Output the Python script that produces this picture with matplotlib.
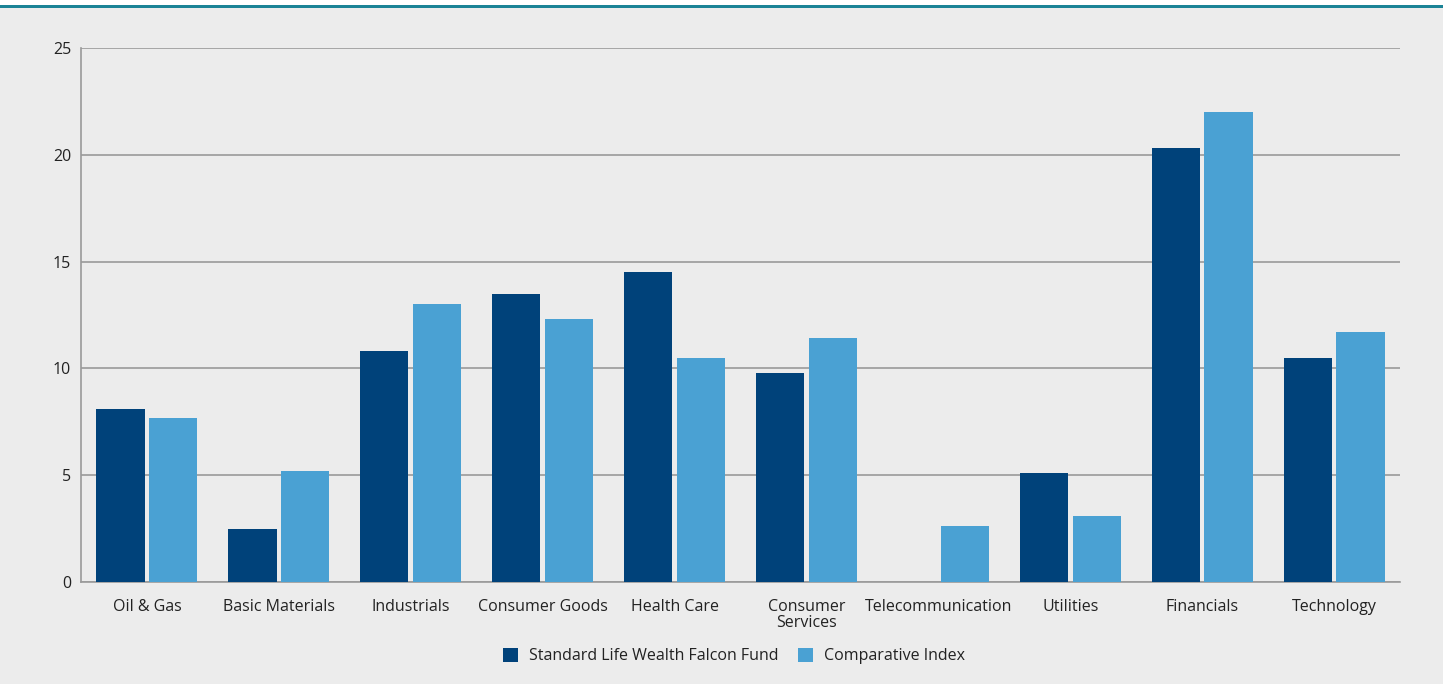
import matplotlib.pyplot as plt
import numpy as np
from matplotlib.patches import Rectangle

categories = ["Oil & Gas", "Basic Materials", "Industrials", "Consumer Goods",
              "Health Care", "Consumer\nServices", "Telecommunication",
              "Utilities", "Financials", "Technology"]
fund = [8.1, 2.5, 10.8, 13.5, 14.5, 9.8, 0.0, 5.1, 20.3, 10.5]
index = [7.7, 5.2, 13.0, 12.3, 10.5, 11.4, 2.6, 3.1, 22.0, 11.7]
yticks = [0, 5, 10, 15, 20, 25]

plt.rcParams['font.family'] = ['Open Sans', 'DejaVu Sans']

bg = "#ececec"
fig = plt.figure(figsize=(14.51, 6.84), dpi=100, facecolor="white")
# gray panel and teal top rule, behind the axes
fig.patches.append(Rectangle((0, 0), 1443 / 1451, 676 / 684, transform=fig.transFigure,
                             facecolor=bg, edgecolor="none", zorder=-5))
fig.patches.append(Rectangle((0, 676 / 684), 1443 / 1451, 3 / 684, transform=fig.transFigure,
                             facecolor="#1b8396", edgecolor="none", zorder=-4))

ax = fig.add_axes([81 / 1451, 1 - 582 / 684, 1319 / 1451, 534 / 684])
ax.set_facecolor(bg)

x = np.arange(len(categories))
w = 0.365
ax.bar(x - 0.2, fund, w, color="#00427a", label="Standard Life Wealth Falcon Fund", zorder=3)
ax.bar(x + 0.2, index, w, color="#4aa1d3", label="Comparative Index", zorder=3)

ax.set_xlim(-0.5, len(categories) - 0.5)
ax.set_ylim(0, 25)
ax.set_yticks(yticks)
ax.set_xticks(x)
ax.set_xticklabels(categories, fontsize=11.5, color="#222222", linespacing=1.05)
ax.tick_params(axis="both", length=0, labelsize=11.5, colors="#222222")
ax.tick_params(axis="y", pad=7)
ax.tick_params(axis="x", pad=12)
for lbl in ax.get_xticklabels():
    lbl.set_verticalalignment("top")

ax.grid(axis="y", color="#9a9a9a", linewidth=1.2, zorder=0)
for s in ["top", "right"]:
    ax.spines[s].set_visible(False)
for s in ["left", "bottom"]:
    ax.spines[s].set_color("#9a9a9a")
    ax.spines[s].set_linewidth(1.2)

leg = fig.legend(loc="center", bbox_to_anchor=(734 / 1451, 1 - 656 / 684), ncol=2,
                 frameon=False, fontsize=11.5, handlelength=0.95, handleheight=0.95,
                 handletextpad=0.7, columnspacing=1.2)
for t in leg.get_texts():
    t.set_color("#222222")

fig.savefig("out.png", dpi=100, facecolor="white")
